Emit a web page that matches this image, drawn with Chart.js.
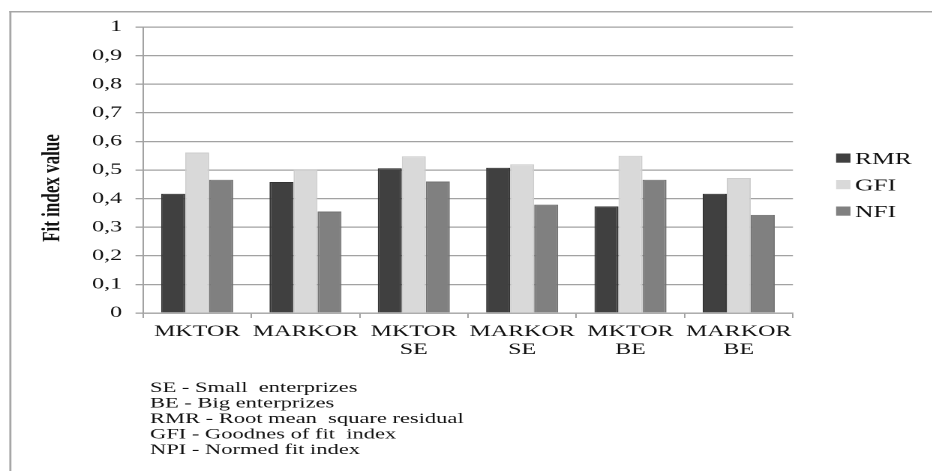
<!DOCTYPE html>
<html>
<head>
<meta charset="utf-8">
<script src="https://cdn.jsdelivr.net/npm/chart.js@4/dist/chart.umd.min.js"></script>
<style>
  html, body { margin: 0; padding: 0; background: #fff; overflow: hidden; }
  /* the figure is laid out narrow and widened 1.5x, which gives its broad lettering */
  #wrap {
    position: absolute; left: 0; top: 0;
    width: 621.333px; height: 471px;
    transform: scaleX(1.5); transform-origin: 0 0;
  }
</style>
</head>
<body>
<div id="wrap"><canvas id="chart"></canvas></div>
<script>
const categories = [['MKTOR'], ['MARKOR'], ['MKTOR', 'SE'], ['MARKOR', 'SE'], ['MKTOR', 'BE'], ['MARKOR', 'BE']];
const seriesNames = ['RMR', 'GFI', 'NFI'];
const rmrValues = [0.417, 0.458, 0.506, 0.508, 0.373, 0.417];
const gfiValues = [0.561, 0.501, 0.548, 0.520, 0.550, 0.472];
const nfiValues = [0.466, 0.355, 0.460, 0.379, 0.466, 0.343];
const yTickLabels = ['0', '0,1', '0,2', '0,3', '0,4', '0,5', '0,6', '0,7', '0,8', '0,9', '1'];
const yAxisTitle = 'Fit index value';
const noteLines = [
  'SE - Small  enterprizes',
  'BE - Big enterprizes',
  'RMR - Root mean  square residual',
  'GFI - Goodnes of fit  index',
  'NPI - Normed fit index'
];

const serif = '"Liberation Serif", "Times New Roman", serif';
const textColor = '#111';
const lineGrey = '#a2a2a2';

// frame, rotated axis title, legend and the explanatory notes
const decorations = {
  id: 'decorations',
  beforeDraw(chart) {
    const ctx = chart.ctx;
    ctx.save();
    ctx.fillStyle = '#a6a6a6';
    ctx.fillRect(6.2, 11, 1.4, chart.height);
    ctx.fillRect(6.2, 11, chart.width, 1.5);
    ctx.restore();
  },
  afterDraw(chart) {
    const ctx = chart.ctx;
    ctx.save();
    ctx.fillStyle = textColor;

    // y axis title
    ctx.save();
    ctx.translate(35, 188);
    ctx.rotate(-Math.PI / 2);
    ctx.font = 'bold 17px ' + serif;
    ctx.textAlign = 'center';
    ctx.textBaseline = 'middle';
    ctx.fillText(yAxisTitle, 0, 0);
    ctx.restore();

    // legend
    ctx.font = '17px ' + serif;
    ctx.textAlign = 'left';
    ctx.textBaseline = 'alphabetic';
    chart.data.datasets.forEach((ds, i) => {
      const top = 153.5 + i * 26.5;
      ctx.fillStyle = ds.backgroundColor;
      ctx.fillRect(557.4, top, 9.6, 9.2);
      ctx.fillStyle = textColor;
      ctx.fillText(ds.label, 570, top + 10.6);
    });

    // notes below the chart
    ctx.font = '15px ' + serif;
    noteLines.forEach((line, i) => {
      ctx.fillText(line, 100, 392 + i * 15.5);
    });
    ctx.restore();
  }
};

new Chart(document.getElementById('chart'), {
  type: 'bar',
  data: {
    labels: categories,
    datasets: [
      { label: seriesNames[0], data: rmrValues, backgroundColor: '#404040', borderColor: '#333333', borderWidth: 1 },
      { label: seriesNames[1], data: gfiValues, backgroundColor: '#d9d9d9', borderColor: '#cdcdcd', borderWidth: 1 },
      { label: seriesNames[2], data: nfiValues, backgroundColor: '#808080', borderColor: '#727272', borderWidth: 1 }
    ]
  },
  options: {
    responsive: true,
    maintainAspectRatio: false,
    devicePixelRatio: 2,
    animation: false,
    layout: { padding: { left: 0, right: 92.67, top: 27, bottom: 100 } },
    datasets: { bar: { categoryPercentage: 0.665, barPercentage: 1 } },
    plugins: {
      legend: { display: false },
      tooltip: { enabled: false },
      title: { display: false }
    },
    scales: {
      x: {
        offset: true,
        afterFit(scale) { scale.height = 58; },
        grid: { display: true, drawOnChartArea: false, drawTicks: true, tickLength: 5, color: lineGrey, lineWidth: 1, offset: true },
        border: { display: true, color: lineGrey, width: 1.3 },
        ticks: {
          color: textColor, padding: 5, maxRotation: 0, autoSkip: false,
          font: { family: serif, size: 16, lineHeight: 1.125 }
        }
      },
      y: {
        min: 0,
        max: 1,
        afterFit(scale) { scale.width = 95.33; },
        grid: { color: lineGrey, lineWidth: 1.3, tickLength: 5, drawTicks: true },
        border: { display: true, color: lineGrey, width: 1 },
        ticks: {
          stepSize: 0.1,
          color: textColor,
          padding: 9,
          font: { family: serif, size: 16 },
          callback: (value, index) => yTickLabels[index]
        }
      }
    }
  },
  plugins: [decorations]
});
</script>
</body>
</html>
